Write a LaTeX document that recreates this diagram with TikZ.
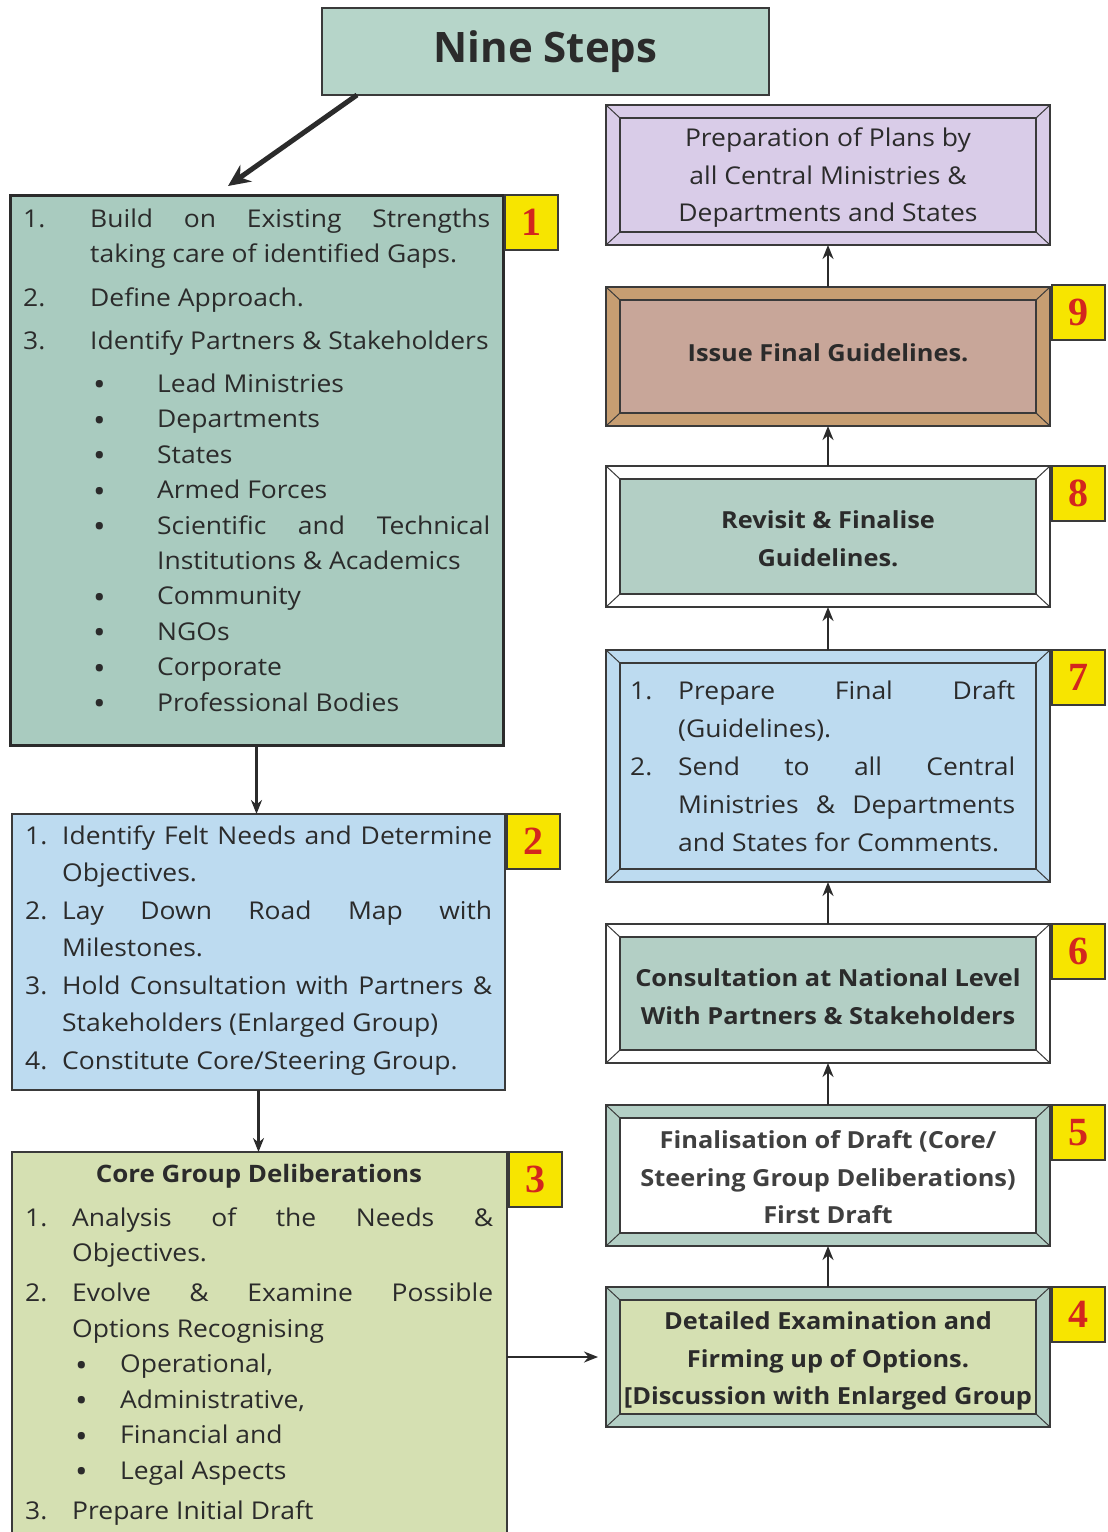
\documentclass[tikz,border=0pt]{standalone}
\usepackage{fontspec}
\usepackage{graphicx}
\setmainfont{Open Sans}[FakeStretch=1.08]
\newfontfamily\titlefont{Open Sans}
\newfontfamily\numfont{Liberation Serif}
\usetikzlibrary{arrows.meta,calc}
\definecolor{titlefill}{HTML}{B6D5C9}
\definecolor{tealfill}{HTML}{A9CBBF}
\definecolor{bluefill}{HTML}{BDDBF0}
\definecolor{olivefill}{HTML}{D5E0B2}
\definecolor{lavfill}{HTML}{D9CCE8}
\definecolor{tanframe}{HTML}{C79E72}
\definecolor{rosefill}{HTML}{C8A699}
\definecolor{sagefill}{HTML}{B3CFC5}
\definecolor{badgeyellow}{HTML}{F7E500}
\definecolor{badgered}{HTML}{D3261E}
\definecolor{ink}{HTML}{2B2B2B}
\definecolor{edge}{HTML}{3A3A3A}
\definecolor{greyink}{HTML}{404040}
\newcommand\bigbul{\raisebox{-3.5pt}{\fontsize{31}{31}\selectfont\textbullet}}
\newcommand\bul[2]{\hspace*{#1}\makebox[#2][l]{\bigbul}}
\newcommand\bevelbox[7]{%
  \node[draw=edge, line width=1.3pt, fill=#6, minimum width=#4pt, minimum height=#5pt,
        inner sep=0pt, outer sep=0pt, anchor=north west] (#1) at (#2,#3) {};
  \draw[draw=edge, line width=1.3pt, fill=#7] ([shift={(14,13)}]#1.north west) rectangle ([shift={(-14,-13)}]#1.south east);
  \draw[edge, line width=1pt] (#1.north west) -- ++(14,13) (#1.north east) -- ++(-14,13)
        (#1.south west) -- ++(14,-13) (#1.south east) -- ++(-14,-13);
}
\begin{document}
\begin{tikzpicture}[x=1pt,y=-1pt,
  plainbox/.style={draw=edge, line width=1.5pt, inner sep=0pt, outer sep=0pt, anchor=north west},
  badge/.style={draw=edge, line width=1.5pt, fill=badgeyellow, inner sep=0pt, outer sep=0pt,
     minimum width=53pt, minimum height=55pt, anchor=north west,
     font=\numfont\bfseries\fontsize{40}{40}\selectfont, text=badgered},
  flow/.style={draw=ink, line width=2.2pt, -{Stealth[length=14pt,width=11pt]}},
  bodytext/.style={inner sep=0pt, anchor=base west, text=ink},
  centertext/.style={align=center, inner sep=0pt, text=ink, font=\fontsize{23.5}{37.5}\selectfont\bfseries},
  regtext/.style={align=center, inner sep=0pt, text=ink, font=\fontsize{24.5}{37.5}\selectfont}]
\fill[white] (0,0) rectangle (1108,1532);
\useasboundingbox (0,0) rectangle (1108,1532);
\clip (0,0) rectangle (1108,1532);

% title
\node[plainbox, fill=titlefill, minimum width=447pt, minimum height=87pt, text=ink,
      font=\titlefont\fontsize{42}{42}\selectfont\bfseries] (title) at (322,8) {Nine Steps};
\coordinate (a1end) at (228,186);
\draw[line width=5pt, draw=ink, -{Stealth[length=22pt,width=20pt]}] ([xshift=35pt]title.south west) -- (a1end);

% box 1
\node[plainbox, fill=tealfill, draw=ink, line width=3pt, minimum width=493pt, minimum height=550pt] (box1) at (10,195) {};
\node[badge] (b1) at (505,195) {1};
\node[bodytext] (t1) at (23,227) {\parbox[t]{480pt}{\fontsize{24.5}{35.4}\selectfont
\makebox[67pt][l]{1.}\makebox[400pt][s]{Build on Existing Strengths}\\
\hspace*{67pt}taking care of identified Gaps.\\[8.6pt]
\makebox[67pt][l]{2.}Define Approach.\\[7.6pt]
\makebox[67pt][l]{3.}Identify Partners \& Stakeholders\\[7.6pt]
\bul{70pt}{64pt}Lead Ministries\\
\bul{70pt}{64pt}Departments\\
\bul{70pt}{64pt}States\\
\bul{70pt}{64pt}Armed Forces\\
\bul{70pt}{64pt}\makebox[333pt][s]{Scientific and Technical}\\
\hspace*{134pt}Institutions \& Academics\\
\bul{70pt}{64pt}Community\\
\bul{70pt}{64pt}NGOs\\
\bul{70pt}{64pt}Corporate\\
\bul{70pt}{64pt}Professional Bodies}};

% box 2
\node[plainbox, fill=bluefill, minimum width=493pt, minimum height=276pt] (box2) at (12,814) {};
\node[badge] (b2) at (507,814) {2};
\node[bodytext] (t2) at (25,844) {\parbox[t]{480pt}{\fontsize{24.5}{37.5}\selectfont
\makebox[37pt][l]{1.}\makebox[430pt][s]{Identify Felt Needs and Determine}\\
\hspace*{37pt}Objectives.\\
\makebox[37pt][l]{2.}\makebox[430pt][s]{Lay Down Road Map with}\\
\hspace*{37pt}Milestones.\\
\makebox[37pt][l]{3.}\makebox[430pt][s]{Hold Consultation with Partners \&}\\
\hspace*{37pt}Stakeholders (Enlarged Group)\\
\makebox[37pt][l]{4.}Constitute Core/Steering Group.}};

% box 3
\node[plainbox, fill=olivefill, minimum width=495pt, minimum height=400pt] (box3) at (12,1152) {};
\node[badge] (b3) at (509,1152) {3};
\node[inner sep=0pt, anchor=base, text=ink, font=\fontsize{24}{25}\selectfont\bfseries] (t3h) at (259,1182) {Core Group Deliberations};
\node[bodytext] (t3) at (25,1226) {\parbox[t]{480pt}{\fontsize{24.5}{35.5}\selectfont
\makebox[47pt][l]{1.}\makebox[421pt][s]{Analysis of the Needs \&}\\
\hspace*{47pt}Objectives.\\[4.5pt]
\makebox[47pt][l]{2.}\makebox[421pt][s]{Evolve \& Examine Possible}\\
\hspace*{47pt}Options Recognising\\
\bul{50pt}{45pt}Operational,\\
\bul{50pt}{45pt}Administrative,\\
\bul{50pt}{45pt}Financial and\\
\bul{50pt}{45pt}Legal Aspects\\[4.5pt]
\makebox[47pt][l]{3.}Prepare Initial Draft}};

% right column
\bevelbox{plans}{606}{105}{444}{140}{lavfill}{lavfill}
\node[regtext, yshift=-3pt] (tp) at (plans.center) {Preparation of Plans by\\all Central Ministries \&\\Departments and States};

\bevelbox{box9}{606}{287}{444}{139}{tanframe}{rosefill}
\node[centertext, yshift=4pt] (t9) at (box9.center) {Issue Final Guidelines.};
\node[badge] (b9) at (1052,285) {9};

\bevelbox{box8}{606}{466}{444}{141}{white}{sagefill}
\node[centertext, yshift=-2pt] (t8) at (box8.center) {Revisit \& Finalise\\Guidelines.};
\node[badge] (b8) at (1052,466) {8};

\bevelbox{box7}{606}{650}{444}{232}{bluefill}{bluefill}
\node[bodytext] (t7) at (630,699) {\parbox[t]{400pt}{\fontsize{24.5}{38}\selectfont
\makebox[48pt][l]{1.}\makebox[337pt][s]{Prepare Final Draft}\\
\hspace*{48pt}(Guidelines).\\
\makebox[48pt][l]{2.}\makebox[337pt][s]{Send to all Central}\\
\hspace*{48pt}\makebox[337pt][s]{Ministries \& Departments}\\
\hspace*{48pt}and States for Comments.}};
\node[badge] (b7) at (1052,650) {7};

\bevelbox{box6}{606}{924}{444}{139}{white}{sagefill}
\node[centertext, yshift=-3pt] (t6) at (box6.center) {Consultation at National Level\\With Partners \& Stakeholders};
\node[badge] (b6) at (1052,924) {6};

\bevelbox{box5}{606}{1105}{444}{141}{sagefill}{white}
\node[centertext, text=greyink, yshift=-2pt] (t5) at (box5.center) {Finalisation of Draft (Core/\\Steering Group Deliberations)\\First Draft};
\node[badge] (b5) at (1052,1105) {5};

\bevelbox{box4}{606}{1287}{444}{140}{sagefill}{olivefill}
\node[centertext, yshift=-4pt] (t4) at (box4.center) {Detailed Examination and\\Firming up of Options.\\{[}Discussion with Enlarged Group};
\node[badge] (b4) at (1052,1287) {4};

% connectors
\draw[flow] (box1.south) -- (box1.south |- box2.north);
\draw[flow] (box2.south) -- (box2.south |- box3.north);
\draw[flow] (box3.east |- box4.west) -- ([xshift=-8pt]box4.west);
\draw[flow] (box4.north) -- (box5.south);
\draw[flow] (box5.north) -- (box6.south);
\draw[flow] (box6.north) -- (box7.south);
\draw[flow] (box7.north) -- (box8.south);
\draw[flow] (box8.north) -- (box9.south);
\draw[flow] (box9.north) -- (plans.south);
\end{tikzpicture}
\end{document}
